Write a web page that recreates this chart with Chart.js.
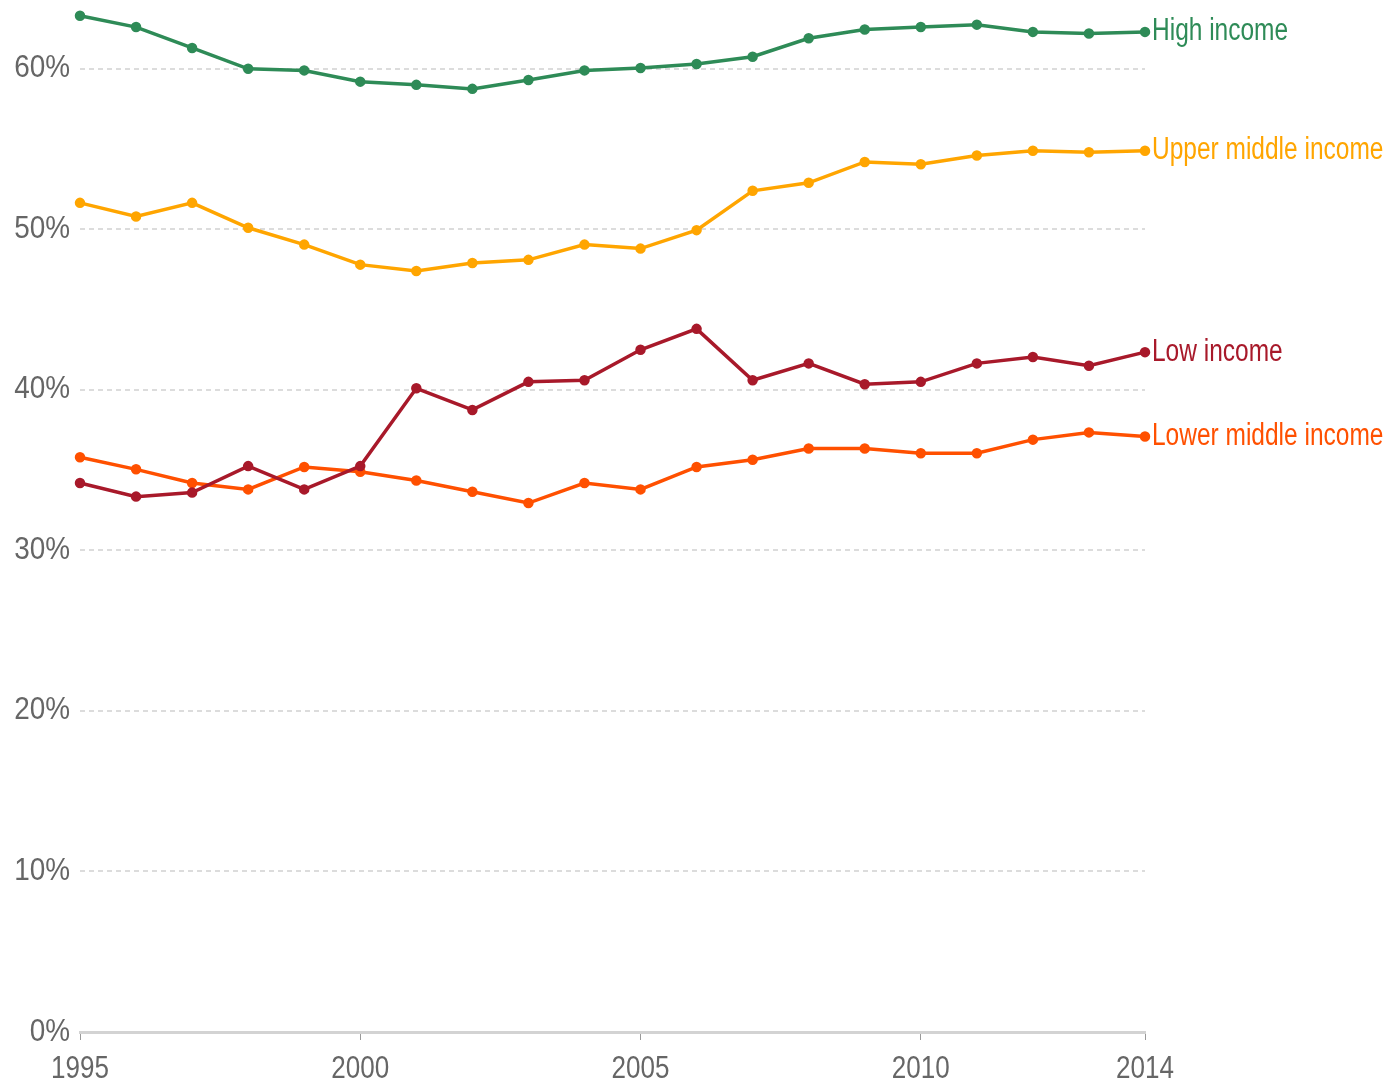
<!DOCTYPE html>
<html>
<head>
<meta charset="utf-8">
<script src="https://cdn.jsdelivr.net/npm/chart.js@4"></script>
<style>
  body { margin: 0; background: #fff; }
  #wrap { width: 1393px; height: 1088px; }
</style>
</head>
<body>
<div id="wrap"><canvas id="chart" width="1393" height="1088"></canvas></div>
<script>
// data (percent)
const years = [1995, 1996, 1997, 1998, 1999, 2000, 2001, 2002, 2003, 2004,
  2005, 2006, 2007, 2008, 2009, 2010, 2011, 2012, 2013, 2014];
const highIncome = [63.3, 62.6, 61.3, 60.0, 59.9, 59.2, 59.0, 58.75, 59.3, 59.9,
  60.05, 60.3, 60.75, 61.9, 62.45, 62.6, 62.75, 62.3, 62.2, 62.3];
const upperMiddle = [51.65, 50.8, 51.65, 50.1, 49.05, 47.8, 47.4, 47.9, 48.1, 49.05,
  48.8, 49.95, 52.4, 52.9, 54.2, 54.05, 54.6, 54.9, 54.8, 54.9];
const lowIncome = [34.2, 33.35, 33.6, 35.25, 33.8, 35.25, 40.1, 38.75, 40.5, 40.6,
  42.5, 43.8, 40.6, 41.65, 40.35, 40.5, 41.65, 42.05, 41.5, 42.35];
const lowerMiddle = [35.8, 35.05, 34.2, 33.8, 35.2, 34.9, 34.35, 33.65, 32.95, 34.2,
  33.8, 35.2, 35.65, 36.35, 36.35, 36.05, 36.05, 36.9, 37.35, 37.1];
const xTicks = [1995, 2000, 2005, 2010, 2014];
const yTicks = [0, 10, 20, 30, 40, 50, 60];

// no condensed font installed, so squeeze Liberation Sans sideways
const FONT = '31px "Liberation Sans", Arial, sans-serif';

const seriesList = [
  { label: "High income", values: highIncome, color: "#2e8b57" },
  { label: "Upper middle income", values: upperMiddle, color: "#ffa500" },
  { label: "Low income", values: lowIncome, color: "#a8192a" },
  { label: "Lower middle income", values: lowerMiddle, color: "#ff5000" },
];

function squeezedText(ctx, text, x, y, align, sx) {
  ctx.save();
  ctx.translate(x, y);
  ctx.scale(sx, 1);
  ctx.textAlign = align;
  ctx.fillText(text, 0, 0);
  ctx.restore();
}

// tick labels + series names, drawn narrow
const textLayer = {
  id: "textLayer",
  afterDraw(chart) {
    const ctx = chart.ctx;
    const xs = chart.scales.x, ys = chart.scales.y;
    ctx.save();
    ctx.font = FONT;
    ctx.textBaseline = "middle";
    ctx.fillStyle = "#666";
    ys.ticks.forEach((t) => {
      squeezedText(ctx, t.value + "%", xs.left - 10, ys.getPixelForValue(t.value), "right", 0.9);
    });
    xs.ticks.forEach((t) => {
      squeezedText(ctx, String(t.value), xs.getPixelForValue(t.value), ys.bottom + 37, "center", 0.84);
    });
    chart.data.datasets.forEach((ds, i) => {
      const pt = chart.getDatasetMeta(i).data[ds.data.length - 1];
      ctx.fillStyle = ds.borderColor;
      squeezedText(ctx, ds.label, pt.x + 7, pt.y, "left", 0.79);
    });
    ctx.restore();
  },
};

new Chart(document.getElementById("chart"), {
  type: "line",
  data: {
    datasets: seriesList.map((s) => ({
      label: s.label,
      data: years.map((yr, i) => ({ x: yr, y: s.values[i] })),
      borderColor: s.color,
      backgroundColor: s.color,
      borderWidth: 3.5,
      pointRadius: 3.5,
      pointHoverRadius: 3.5,
      tension: 0,
      clip: false,
    })),
  },
  options: {
    responsive: false,
    animation: false,
    events: [],
    layout: { padding: { left: 0, right: 248, top: 0, bottom: 0 } },
    plugins: { legend: { display: false }, tooltip: { enabled: false } },
    scales: {
      x: {
        type: "linear",
        min: 1995,
        max: 2014,
        afterBuildTicks: (axis) => { axis.ticks = xTicks.map((v) => ({ value: v })); },
        afterFit: (axis) => { axis.height = 56; axis.paddingLeft = 0; axis.paddingRight = 0; },
        border: { display: true, color: "#d3d3d3", width: 3 },
        grid: { drawOnChartArea: false, drawTicks: true, tickLength: 8, color: "#999", lineWidth: 1 },
        ticks: { display: false },
      },
      y: {
        min: 0,
        max: 63.85,
        afterBuildTicks: (axis) => { axis.ticks = yTicks.map((v) => ({ value: v })); },
        afterFit: (axis) => { axis.width = 80; axis.paddingTop = 0; axis.paddingBottom = 0; },
        border: { display: false, dash: [5, 4] },
        grid: {
          drawTicks: false,
          color: (c) => (c.tick && c.tick.value === 0 ? "rgba(0,0,0,0)" : "#dcdcdc"),
          lineWidth: 2,
        },
        ticks: { display: false },
      },
    },
  },
  plugins: [textLayer],
});
</script>
</body>
</html>
